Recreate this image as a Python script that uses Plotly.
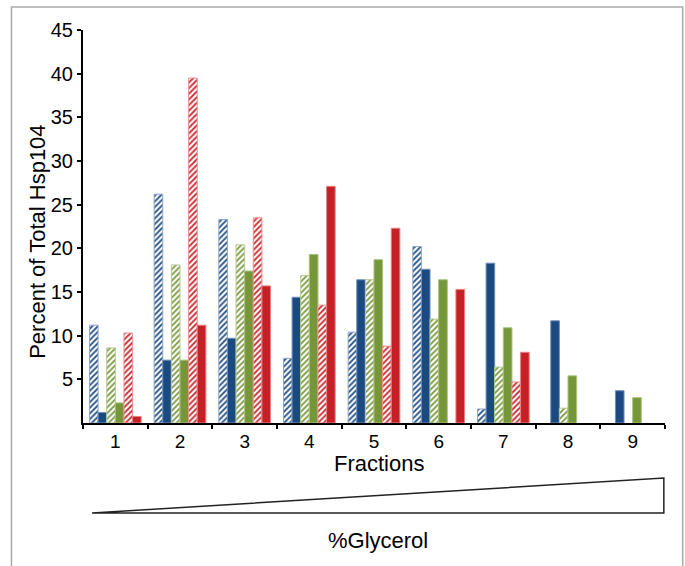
import plotly.graph_objects as go

fractions = ["1", "2", "3", "4", "5", "6", "7", "8", "9"]
blue_hatched = [11.2, 26.2, 23.3, 7.4, 10.4, 20.2, 1.6, None, None]
blue_solid = [1.2, 7.2, 9.7, 14.4, 16.4, 17.6, 18.3, 11.7, 3.7]
green_hatched = [8.6, 18.1, 20.4, 16.9, 16.4, 11.9, 6.4, 1.7, None]
green_solid = [2.3, 7.2, 17.4, 19.3, 18.7, 16.4, 10.9, 5.4, 2.9]
red_hatched = [10.3, 39.5, 23.5, 13.5, 8.8, None, 4.7, None, None]
red_solid = [0.75, 11.2, 15.7, 27.1, 22.3, 15.3, 8.1, None, None]
y_ticks = [5, 10, 15, 20, 25, 30, 35, 40, 45]

BLUE = "#1b4a80"
GREEN = "#76963a"
RED = "#c52027"

series = [
    ("Blue hatched", blue_hatched, BLUE, True, "#8ea6cc"),
    ("Blue solid", blue_solid, BLUE, False, "#6f8fbf"),
    ("Green hatched", green_hatched, GREEN, True, "#b5c98f"),
    ("Green solid", green_solid, GREEN, False, "#a9c07a"),
    ("Red hatched", red_hatched, RED, True, "#ec9090"),
    ("Red solid", red_solid, RED, False, "#e98080"),
]

fig = go.Figure()
for name, vals, col, hatched, edge in series:
    if hatched:
        marker = dict(color="white",
                      pattern=dict(shape="/", fgcolor=col, bgcolor="white",
                                   fgopacity=1, size=4, solidity=0.45,
                                   fillmode="overlay"),
                      line=dict(color=edge, width=1))
    else:
        marker = dict(color=col, line=dict(color=edge, width=1))
    fig.add_trace(go.Bar(name=name, x=fractions, y=vals, marker=marker))

FONT = "Liberation Sans, Arial, sans-serif"

fig.update_layout(
    width=685, height=566,
    margin=dict(l=83, r=20, t=30, b=143),
    barmode="group", bargap=0.2, bargroupgap=0,
    plot_bgcolor="white", paper_bgcolor="white",
    showlegend=False,
    font=dict(family=FONT, color="black", size=20),
    xaxis=dict(type="category", tickson="boundaries", ticks="outside",
               ticklen=4, tickwidth=1.5, tickcolor="black",
               showline=True, linecolor="black", linewidth=2,
               showgrid=False, tickfont=dict(size=19, family=FONT)),
    yaxis=dict(range=[0, 45], tickvals=y_ticks, ticks="outside",
               ticklen=4, tickwidth=1.5, tickcolor="black",
               showline=True, linecolor="black", linewidth=2,
               showgrid=False, zeroline=False,
               tickfont=dict(size=20, family=FONT)),
)

# axis titles
fig.add_annotation(text="Percent of Total Hsp104", xref="paper", yref="paper",
                   x=-0.078, y=0.46, textangle=-90, showarrow=False,
                   xanchor="center", yanchor="middle",
                   font=dict(size=22, family=FONT))
fig.add_annotation(text="Fractions", xref="paper", yref="paper",
                   x=0.508, y=-0.103, showarrow=False,
                   xanchor="center", yanchor="middle",
                   font=dict(size=22, family=FONT))
fig.add_annotation(text="%Glycerol", xref="paper", yref="paper",
                   x=0.507, y=-0.300, showarrow=False,
                   xanchor="center", yanchor="middle",
                   font=dict(size=22, family=FONT))

# glycerol gradient wedge
fig.add_shape(type="path", xref="paper", yref="paper",
              path="M 0.0155 -0.229 L 0.998 -0.140 L 0.998 -0.229 Z",
              line=dict(color="#222222", width=1.5), fillcolor="white")

# outer frame
fig.add_shape(type="rect", xref="paper", yref="paper",
              x0=-0.1229, x1=1.0304, y0=-0.6, y1=1.0585,
              line=dict(color="#aaaaaa", width=1.5), fillcolor="rgba(0,0,0,0)",
              layer="below")

fig.write_html("out.html", config={"displayModeBar": False},
               post_script="document.body.style.margin='0px';")
